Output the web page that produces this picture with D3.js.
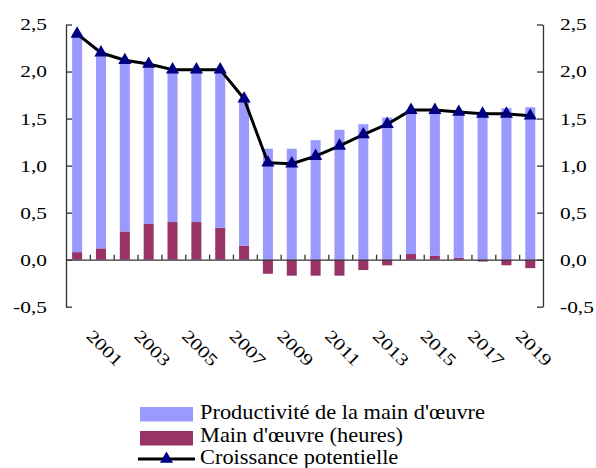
<!DOCTYPE html>
<html>
<head>
<meta charset="utf-8">
<script src="https://cdn.jsdelivr.net/npm/d3@7"></script>
<style>
  body { margin: 0; background: #fff; }
  text { font-family: "Liberation Serif", "Times New Roman", serif; fill: #000; }
</style>
</head>
<body>
<svg id="chart" width="596" height="468"></svg>
<script>
// data
var years = d3.range(2000, 2020);
var productivity = [2.32, 2.08, 1.81, 1.69, 1.61, 1.61, 1.67, 1.56, 1.18, 1.18,
                    1.27, 1.38, 1.44, 1.51, 1.53, 1.55, 1.55, 1.57, 1.61, 1.62];
var labour = [0.08, 0.12, 0.30, 0.38, 0.40, 0.40, 0.34, 0.15, -0.15, -0.17,
              -0.17, -0.17, -0.11, -0.06, 0.06, 0.04, 0.02, -0.02, -0.06, -0.09];
var potential = [2.40, 2.20, 2.12, 2.08, 2.02, 2.02, 2.02, 1.71, 1.03, 1.02,
                 1.10, 1.21, 1.33, 1.44, 1.59, 1.59, 1.57, 1.55, 1.55, 1.53];
var yTicks = [-0.5, 0, 0.5, 1.0, 1.5, 2.0, 2.5];
var labelYears = [2001, 2003, 2005, 2007, 2009, 2011, 2013, 2015, 2017, 2019];
var legendLabels = ["Productivité de la main d'œuvre", "Main d'œuvre (heures)", "Croissance potentielle"];

var prodColor = "#9999ff";
var labourColor = "#993366";
var markerColor = "#000080";
var axisColor = "#333";

var svg = d3.select("#chart");
var plotLeft = 66, plotRight = 543, plotTop = 24.5, plotBottom = 306.7;
var stretch = 1.26; // the reference text is drawn wide

var x = d3.scaleBand().domain(years).range([plotLeft, plotRight]).padding(0);
var y = d3.scaleLinear().domain([-0.5, 2.5]).range([plotBottom, plotTop]);
var barWidth = x.bandwidth() * 0.42;

function fmt(v) { return v.toFixed(1).replace(".", ","); }
function cx(yr) { return x(yr) + x.bandwidth() / 2 - 0.8; }

var rows = years.map(function(yr, i) {
  return {year: yr, labour: labour[i], prod: productivity[i]};
});
var stacked = d3.stack().keys(["labour", "prod"]).offset(d3.stackOffsetDiverging)(rows);
var colors = {labour: labourColor, prod: prodColor};

svg.append("g").selectAll("g")
  .data(stacked)
  .enter().append("g")
  .attr("fill", function(d) { return colors[d.key]; })
  .selectAll("rect")
  .data(function(d) { return d; })
  .enter().append("rect")
  .attr("x", function(d) { return cx(d.data.year) - barWidth / 2; })
  .attr("width", barWidth)
  .attr("y", function(d) { return y(Math.max(d[0], d[1])); })
  .attr("height", function(d) { return Math.abs(y(d[0]) - y(d[1])); });

// left / right axes
var yl = svg.append("g")
  .attr("transform", "translate(" + plotLeft + ",0)")
  .call(d3.axisLeft(y).tickValues(yTicks).tickFormat(fmt).tickSizeInner(-6).tickSizeOuter(0).tickPadding(19));
var yr = svg.append("g")
  .attr("transform", "translate(" + plotRight + ",0)")
  .call(d3.axisRight(y).tickValues(yTicks).tickFormat(fmt).tickSizeInner(-6).tickSizeOuter(0).tickPadding(17));

// zero line with category boundary ticks
var xb = d3.scaleLinear().domain([0, years.length]).range([plotLeft, plotRight]);
var xa = svg.append("g")
  .attr("transform", "translate(0," + y(0) + ")")
  .call(d3.axisBottom(xb).tickValues(d3.range(1, years.length)).tickFormat("").tickSizeInner(-5).tickSizeOuter(0));

[yl, yr, xa].forEach(function(g) {
  g.selectAll("path, line").attr("stroke", axisColor).attr("stroke-width", 1.3);
  g.selectAll("text").attr("font-size", 17).attr("font-family", "Liberation Serif").attr("fill", "#000");
});
yl.selectAll("text").attr("x", -19 / stretch).attr("transform", "scale(" + stretch + ",1)");
yr.selectAll("text").attr("x", 17 / stretch).attr("transform", "scale(" + stretch + ",1)");

// year labels, rotated
svg.append("g").selectAll("text")
  .data(labelYears)
  .enter().append("text")
  .attr("transform", function(d) {
    return "translate(" + (cx(d) - 15.5) + ",337) rotate(45) scale(" + stretch + ",1)";
  })
  .attr("font-size", 17)
  .text(function(d) { return d; });

// potential growth line
var line = d3.line()
  .x(function(d, i) { return cx(years[i]); })
  .y(function(d) { return y(d); });

svg.append("path")
  .datum(potential)
  .attr("d", line)
  .attr("fill", "none")
  .attr("stroke", "#000")
  .attr("stroke-width", 3)
  .attr("stroke-linejoin", "round");

var tri = d3.symbol().type(d3.symbolTriangle).size(75);
svg.append("g").selectAll("path")
  .data(potential)
  .enter().append("path")
  .attr("d", tri)
  .attr("fill", markerColor)
  .attr("transform", function(d, i) {
    return "translate(" + cx(years[i]) + "," + y(d) + ")";
  });

// legend
var lg = svg.append("g");
lg.append("rect").attr("x", 140).attr("y", 407).attr("width", 53).attr("height", 14.5).attr("fill", prodColor);
lg.append("rect").attr("x", 140).attr("y", 431).attr("width", 53).attr("height", 14.5).attr("fill", labourColor);
lg.append("line").attr("x1", 138).attr("x2", 195).attr("y1", 459).attr("y2", 459)
  .attr("stroke", "#000").attr("stroke-width", 3);
lg.append("path").attr("d", tri).attr("fill", markerColor).attr("transform", "translate(166.5,459)");
lg.selectAll("text")
  .data(legendLabels)
  .enter().append("text")
  .attr("transform", function(d, i) { return "translate(200," + (419 + i * 22.5) + ") scale(1.12,1)"; })
  .attr("font-size", 20)
  .text(function(d) { return d; });
</script>
</body>
</html>
